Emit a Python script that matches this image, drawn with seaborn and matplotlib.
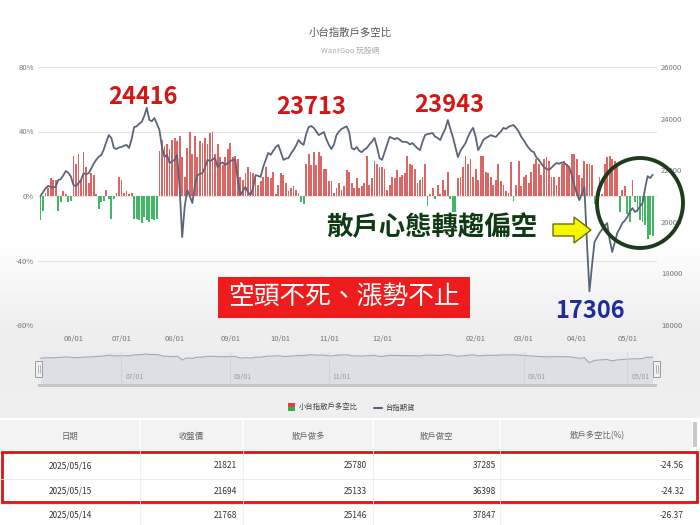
import numpy as np
import pandas as pd
import matplotlib
matplotlib.use('Agg')
import matplotlib.pyplot as plt
import matplotlib.transforms as mtrans
import seaborn as sns
from matplotlib.patches import Rectangle, Ellipse, Polygon

# --- 散戶多空比 (%) 每日, 依月份分段 (2024/05/15 ~ 2025/05/16) ---
ratio_may24 = [-15, -9, 2, 5, 11, 10, 10, -9, -4, 3, 1, -4, -3]
ratio_jun24 = [25, 20, 26, 10, 27, 18, 8, 14, 13, 1, -8, -4, -3, 4, -2, -14, -2, 2, 12]
ratio_jul24 = [10, 2, 3, 1, 2, -14, -14, -15, -17, -13, -15, -16, -14, -15, -14, 28, 35, 31, 32, 29, 35]
ratio_aug24 = [36, 34, 37, 24, 12, 30, 40, 26, 37, 24, 34, 33, 36, 32, 39, 40, 26, 32, 24, 19, 24, 29]
ratio_sep24 = [33, 24, 25, 23, 12, 10, 14, 18, 15, 14, 13, 7, 9, 12, 18, 12, 11, 15, 1, 7]
ratio_oct24 = [14, 13, 8, 3, 5, 6, 4, 2, -4, -5, 20, 26, 19, 27, 19, 27, 25, 17, 17]
ratio_nov24 = [9, 9, 2, 5, 8, 4, 6, 16, 15, 8, 5, 11, 5, 6, 8, 25, 7, 11, 22, 20, 18]
ratio_dec24 = [18, 17, 4, 7, 12, 11, 16, 12, 13, 14, 25, 20, 19, 17, 8, 10, 12, 20, -6, 1, 5, -2]
ratio_jan25 = [7, 1, 10, 4, 15, -2, -10, -10, 11, 12, 18, 25, 20, 23, 12]
ratio_feb25 = [17, 10, 25, 25, 15, 14, 12, 7, 10, 20, 9, 7, 3, 2, 21, -3, 7, 22, 6]
ratio_mar25 = [12, 13, 8, 15, 20, 23, 20, 13, 23, 24, 22, 12, 12, 7, 12, 20, 22, 20, 18, 26, 26]
ratio_apr25 = [23, 13, 11, 22, 20, 20, 19, -5, -3, 12, 1, 20, 24, 25, 23, 22, 20, -10, 4, 6]
ratio_may25 = [-11, -16, 10, -4, -10, -15, -16, -18, -26.37, -24.32, -24.56]

# --- 台指期貨 收盤價 ---
price_may24 = [21000, 21150, 21300, 21390, 21350, 21330, 21360, 21620, 21650, 21800, 21970, 21900, 21750]
price_jun24 = [21430, 21380, 21500, 21620, 21880, 21850, 21880, 22050, 22250, 22400, 22520, 22590, 22800, 23100, 23360, 23250, 22860, 22820, 22880]
price_jul24 = [22900, 22950, 22980, 22860, 23200, 23670, 23700, 23800, 23870, 24100, 24416, 23950, 23900, 24020, 23800, 23560, 22900, 22510, 22600, 22280, 22350]
price_aug24 = [22400, 22590, 21300, 19410, 20600, 21230, 21000, 20730, 21400, 21810, 21850, 21890, 22100, 22400, 22350, 22420, 22470, 22120, 22250, 22300, 22200, 22280]
price_sep24 = [22350, 22400, 22400, 21600, 21040, 21200, 21350, 21150, 21040, 21300, 21810, 21780, 21740, 22120, 22400, 22670, 22600, 22750, 22900, 22980]
price_oct24 = [22700, 22400, 22450, 22470, 22650, 22780, 22950, 23170, 23050, 22980, 23400, 23670, 23713, 23640, 23500, 23360, 23420, 23480, 23200]
price_nov24 = [22980, 22820, 23000, 23360, 23500, 23600, 23650, 23700, 23480, 22860, 22800, 22900, 22750, 22700, 22800, 22860, 23000, 23100, 23250, 22900, 22470]
price_dec24 = [22400, 22700, 23000, 23290, 23250, 23200, 23250, 23180, 23100, 23100, 23080, 23000, 23050, 22950, 22850, 22780, 23100, 23360, 23400, 23420, 23440, 23300]
price_jan25 = [23250, 23170, 23400, 23600, 23943, 23600, 23290, 22900, 22510, 22750, 22900, 23050, 23300, 23500, 23640]
price_feb25 = [23300, 22780, 22950, 23170, 23250, 23300, 23360, 23320, 23290, 23400, 23500, 23640, 23600, 23680, 23720, 23750, 23640, 23500, 23300]
price_mar25 = [23170, 23000, 22860, 22750, 22700, 22500, 22400, 22250, 22120, 22050, 22010, 22100, 22200, 22280, 22250, 22300, 22280, 22200, 22120, 21800, 21430]
price_apr25 = [21100, 20840, 21100, 21350, 19200, 17306, 18300, 19220, 19400, 19570, 19700, 19850, 19950, 19300, 18830, 19200, 19570, 19750, 19950, 20050]
price_may25 = [20190, 20400, 20530, 20380, 20450, 20600, 20730, 21300, 21768, 21694, 21821]

ratio_months = [ratio_may24, ratio_jun24, ratio_jul24, ratio_aug24, ratio_sep24, ratio_oct24,
                ratio_nov24, ratio_dec24, ratio_jan25, ratio_feb25, ratio_mar25, ratio_apr25, ratio_may25]
price_months = [price_may24, price_jun24, price_jul24, price_aug24, price_sep24, price_oct24,
                price_nov24, price_dec24, price_jan25, price_feb25, price_mar25, price_apr25, price_may25]
month_ticks = ['05/15', '06/01', '07/01', '08/01', '09/01', '10/01', '11/01', '12/01',
               '01/01', '02/01', '03/01', '04/01', '05/01']
main_tick_labels = ['06/01', '07/01', '08/01', '09/01', '10/01', '11/01', '12/01',
                    '02/01', '03/01', '04/01', '05/01']
nav_tick_labels = ['07/01', '09/01', '11/01', '03/01', '05/01']

# 表格資料
table_cols = ['日期', '收盤價', '散戶做多', '散戶做空', '散戶多空比(%)']
table_dates = ['2025/05/16', '2025/05/15', '2025/05/14']
table_close = [21821, 21694, 21768]
table_long = [25780, 25133, 25146]
table_short = [37285, 36398, 37847]
table_ratio = [-24.56, -24.32, -26.37]

ratio = sum(ratio_months, [])
price = sum(price_months, [])
N = len(ratio)
df = pd.DataFrame({'i': np.arange(N), 'ratio': ratio, 'price': price})
df['side'] = np.where(df['ratio'] >= 0, 'long', 'short')

starts = np.cumsum([0] + [len(m) for m in ratio_months[:-1]])
start_of = dict(zip(month_ticks, starts))

sns.set_theme(style='white')
plt.rcParams['font.family'] = ['Noto Sans CJK TC', 'DejaVu Sans']

W, H = 700, 525
fig = plt.figure(figsize=(7, 5.25), dpi=100)
fig.patch.set_facecolor('white')


def fx(x):
    return x / W


def fy(y):
    return 1 - y / H


# 背景漸層
bg = fig.add_axes([0, 0, 1, 1], zorder=-10)
bg.axis('off')
rows = np.arange(H)
shade = np.interp(rows, [0, 235, 330, 417, 418, H], [1, 1, 0.93, 0.935, 1, 1])
bg.imshow(np.repeat(shade[:, None], 2, axis=1), cmap='gray', vmin=0, vmax=1,
          aspect='auto', extent=[0, 1, 0, 1], origin='upper')
bg.set_xlim(0, 1)
bg.set_ylim(0, 1)

# --- 主圖 ---
ax = fig.add_axes([fx(38), fy(325), fx(619), (325 - 67) / H])
ax.set_facecolor('none')
sns.barplot(data=df, x='i', y='ratio', hue='side', native_scale=True, dodge=False,
            palette={'long': '#EF5350', 'short': '#2FCB5E'}, width=0.72,
            errorbar=None, legend=False, linewidth=0, ax=ax)
ax.set_xlim(-1, N + 0.7)
ax.set_ylim(-80, 80)
ax.set_yticks([-80, -40, 0, 40, 80])
ax.set_yticklabels(['-80%', '-40%', '0%', '40%', '80%'], fontsize=5.5, color='#777777')
ax.yaxis.grid(True, color='#e4e4e4', lw=0.8)
ax.xaxis.grid(False)
ax.set_axisbelow(True)
ax.set_xticks([start_of[m] for m in main_tick_labels])
ax.set_xticklabels(main_tick_labels, fontsize=5.5, color='#777777')
ax.tick_params(axis='both', length=0)
ax.tick_params(axis='x', pad=7)
ax.tick_params(axis='y', pad=3)
ax.set_xlabel('')
ax.set_ylabel('')
for s in ax.spines.values():
    s.set_visible(False)

ax2 = ax.twinx()
ax2.set_facecolor('none')
sns.lineplot(data=df, x='i', y='price', color='#5B6579', lw=1.3, ax=ax2)
ax2.set_ylim(16000, 26000)
ax2.set_yticks([16000, 18000, 20000, 22000, 24000, 26000])
ax2.set_yticklabels(['16000', '18000', '20000', '22000', '24000', '26000'],
                    fontsize=5.5, color='#777777')
ax2.tick_params(axis='y', length=0, pad=3)
ax2.set_ylabel('')
ax2.grid(False)
for s in ax2.spines.values():
    s.set_visible(False)

# 標題
fig.text(fx(350), fy(33), '小台指散戶多空比', ha='center', va='center', fontsize=7.5, color='#555555')
fig.text(fx(350), fy(51), 'WantGoo 玩股網', ha='center', va='center', fontsize=5.5, color='#aaaaaa')

# 註解文字
for txt, x, y, c in [('24416', 143, 97, '#D41616'), ('23713', 311, 107, '#D41616'),
                     ('23943', 449, 105, '#D41616'), ('17306', 590, 311, '#1F2C9C')]:
    fig.text(fx(x), fy(y), txt, ha='center', va='center', fontsize=17, fontweight='bold', color=c)

fig.text(fx(432), fy(228), '散戶心態轉趨偏空', ha='center', va='center', fontsize=19,
         fontweight='bold', color='#0F3A14')

arrow = Polygon([(fx(553), fy(224)), (fx(574), fy(224)), (fx(574), fy(217)), (fx(591), fy(230)),
                 (fx(574), fy(243)), (fx(574), fy(236)), (fx(553), fy(236))],
                closed=True, transform=fig.transFigure, facecolor='#F6F600',
                edgecolor='#6E6E10', lw=1.0)
fig.patches.append(arrow)

circle = Ellipse((fx(640), fy(203)), 86 / W, 90 / H, transform=fig.transFigure,
                 facecolor='none', edgecolor='#1D3B1D', lw=2.8)
fig.patches.append(circle)

fig.patches.append(Rectangle((fx(218), fy(318)), 252 / W, 41 / H, transform=fig.transFigure,
                             facecolor='#EE1C1C', edgecolor='none'))
fig.text(fx(344), fy(298), '空頭不死、漲勢不止', ha='center', va='center', fontsize=18.5, color='white')

# --- 導覽列 (navigator) ---
nav = fig.add_axes([fx(38), fy(384), fx(619), (384 - 352) / H])
nav.set_facecolor('#e9ebee')
nav.fill_between(df['i'], df['price'], 0, color='#dcdfe4', lw=0)
sns.lineplot(data=df, x='i', y='price', color='#a3a9b2', lw=0.8, ax=nav)
nav.set_xlim(-1, N + 0.7)
nav.set_ylim(0, 26000)
nav.set_xticks([])
nav.set_yticks([])
nav.set_xlabel('')
nav.set_ylabel('')
for s in nav.spines.values():
    s.set_visible(False)
blend = mtrans.blended_transform_factory(nav.transData, nav.transAxes)
for lab in nav_tick_labels:
    xs = start_of[lab]
    nav.axvline(xs, color='#d0d3d8', lw=0.6)
    nav.text(xs + 1.5, 0.22, lab, transform=blend, fontsize=5, color='#9a9fa6', va='center')
fig.patches.append(Rectangle((fx(38), fy(387)), 619 / W, 3 / H, transform=fig.transFigure,
                             facecolor='#c3c7cc', edgecolor='none'))
for hx in [38, 656]:
    fig.patches.append(Rectangle((fx(hx - 3), fy(377)), 7 / W, 16 / H, transform=fig.transFigure,
                                 facecolor='#f2f2f2', edgecolor='#9a9a9a', lw=0.7))
    for dx in [-1, 1]:
        fig.lines.append(plt.Line2D([fx(hx + 0.5 + dx), fx(hx + 0.5 + dx)], [fy(365), fy(373)],
                                    transform=fig.transFigure, color='#9a9a9a', lw=0.5))

# --- 圖例 ---
fig.patches.append(Rectangle((fx(288), fy(407)), 7 / W, 4 / H, transform=fig.transFigure,
                             facecolor='#EF3B3B', edgecolor='none'))
fig.patches.append(Rectangle((fx(288), fy(411)), 7 / W, 4 / H, transform=fig.transFigure,
                             facecolor='#22B84A', edgecolor='none'))
fig.text(fx(299), fy(407), '小台指散戶多空比', ha='left', va='center', fontsize=5.3, color='#444444')
fig.lines.append(plt.Line2D([fx(374), fx(382)], [fy(408), fy(408)], transform=fig.transFigure,
                            color='#5B6579', lw=1.5))
fig.text(fx(385), fy(408), '台指期貨', ha='left', va='center', fontsize=5.3, color='#444444')

# --- 表格 ---
col_edges = [0, 140, 243, 373, 500, 692]
fig.patches.append(Rectangle((0, fy(450)), fx(692), 30 / H, transform=fig.transFigure,
                             facecolor='#f3f3f3', edgecolor='none'))
for ce in col_edges[1:-1]:
    fig.lines.append(plt.Line2D([fx(ce), fx(ce)], [fy(420), fy(450)], transform=fig.transFigure,
                                color='white', lw=1.2))
    fig.lines.append(plt.Line2D([fx(ce), fx(ce)], [fy(450), fy(525)], transform=fig.transFigure,
                                color='#ececec', lw=0.6))
fig.patches.append(Rectangle((fx(693), fy(447)), 4 / W, 25 / H, transform=fig.transFigure,
                             facecolor='#c8c8c8', edgecolor='none'))
header_x = [70, 191, 308, 436, 597]
for hx, h in zip(header_x, table_cols):
    fig.text(fx(hx), fy(436), h, ha='center', va='center', fontsize=6, color='#666666')

row_y = [466, 491, 515]
for ry in [478.5, 503.5]:
    fig.lines.append(plt.Line2D([0, fx(692)], [fy(ry), fy(ry)], transform=fig.transFigure,
                                color='#e6e6e6', lw=0.6))
for k, ry in enumerate(row_y):
    fig.text(fx(70), fy(ry), table_dates[k], ha='center', va='center', fontsize=6, color='#333333')
    fig.text(fx(237), fy(ry), str(table_close[k]), ha='right', va='center', fontsize=6, color='#333333')
    fig.text(fx(367), fy(ry), str(table_long[k]), ha='right', va='center', fontsize=6, color='#333333')
    fig.text(fx(496), fy(ry), str(table_short[k]), ha='right', va='center', fontsize=6, color='#333333')
    fig.text(fx(684), fy(ry), f'{table_ratio[k]:.2f}', ha='right', va='center', fontsize=6, color='#333333')

fig.patches.append(Rectangle((fx(2), fy(502)), 695 / W, 50 / H, transform=fig.transFigure,
                             facecolor='none', edgecolor='#D91414', lw=2))

fig.savefig('out.png', dpi=100)
